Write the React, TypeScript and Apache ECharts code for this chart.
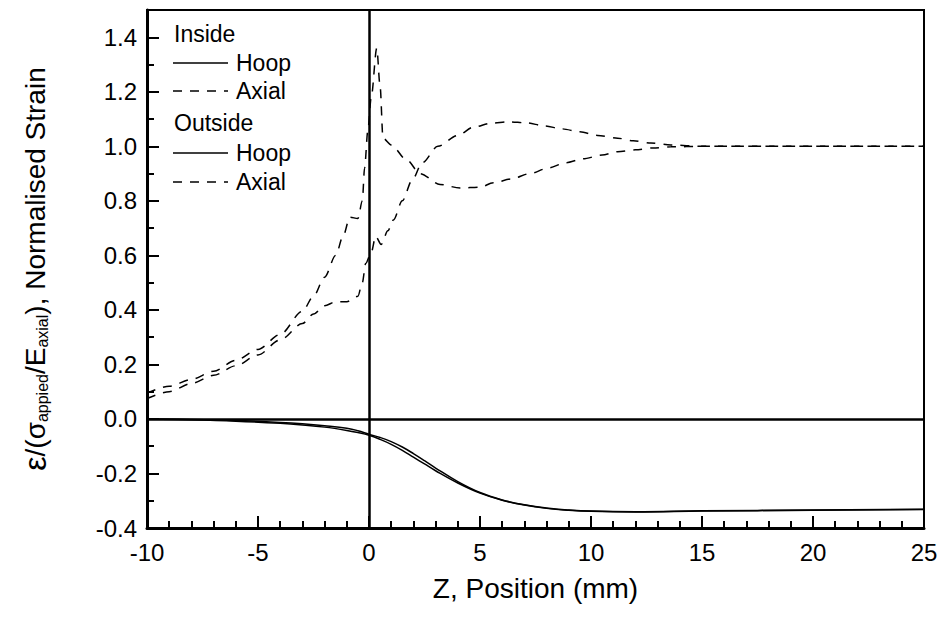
import React, { useEffect, useRef } from "react";
import * as echarts from "echarts";

// Position along the specimen (mm) and normalised strain readings
const hoopZ = [-10, -8, -6, -4, -3, -2, -1, -0.5, 0, 0.5, 1, 1.5, 2, 2.5, 3, 4, 5, 6, 7, 8, 9, 10, 12, 15, 20, 25];
const insideHoop = [0, -0.002, -0.006, -0.013, -0.018, -0.025, -0.034, -0.043, -0.056, -0.068, -0.083, -0.103, -0.127, -0.153, -0.18, -0.23, -0.27, -0.297, -0.315, -0.327, -0.334, -0.338, -0.34, -0.337, -0.334, -0.331];
const outsideHoop = [0, -0.003, -0.008, -0.016, -0.022, -0.03, -0.042, -0.05, -0.06, -0.075, -0.093, -0.115, -0.14, -0.165, -0.19, -0.235, -0.272, -0.298, -0.316, -0.328, -0.335, -0.339, -0.341, -0.338, -0.335, -0.332];

const insideAxialZ = [-10, -9, -8, -7, -6, -5, -4, -3, -2.5, -2, -1.5, -1.17, -0.86, -0.5, -0.3, -0.2, -0.05, 0.1, 0.35, 0.5, 0.63, 1.0, 1.7, 2.3, 3.2, 4.1, 5, 5.6, 6.4, 7.25, 8.06, 8.87, 9.64, 10.5, 11.2, 12, 12.8, 13.6, 15, 20, 25];
const insideAxial = [0.095, 0.12, 0.145, 0.175, 0.215, 0.255, 0.31, 0.395, 0.45, 0.52, 0.6, 0.67, 0.74, 0.735, 0.8, 0.92, 1.06, 1.18, 1.36, 1.22, 1.03, 1.005, 0.95, 0.9, 0.86, 0.847, 0.85, 0.866, 0.88, 0.9, 0.92, 0.94, 0.954, 0.968, 0.98, 0.987, 0.994, 0.998, 1.0, 1.0, 1.0];

const outsideAxialZ = [-10, -9, -8, -7, -6, -5, -4, -3, -2.5, -2, -1.5, -1, -0.5, -0.3, -0.15, 0.1, 0.3, 0.55, 0.85, 1.1, 1.5, 1.95, 2.4, 3.1, 4, 4.7, 5.5, 6.3, 7.1, 7.9, 8.7, 9.5, 10.3, 11.2, 11.9, 12.7, 13.6, 15, 20, 25];
const outsideAxial = [0.075, 0.1, 0.13, 0.16, 0.195, 0.235, 0.29, 0.35, 0.385, 0.415, 0.43, 0.43, 0.45, 0.5, 0.57, 0.61, 0.67, 0.64, 0.69, 0.73, 0.8, 0.877, 0.94, 1.0, 1.04, 1.07, 1.085, 1.09, 1.086, 1.075, 1.064, 1.053, 1.04, 1.03, 1.02, 1.012, 1.005, 1.0, 1.0, 1.0];

const zMin = -10;
const zMax = 25;
const strainMin = -0.4;
const strainMax = 1.5;

const FONT = "'Liberation Sans', Arial, Helvetica, sans-serif";
const DASH = [9, 8];

const pairs = (xs: number[], ys: number[]) => xs.map((x, i) => [x, ys[i]]);

export default function App() {
  const ref = useRef<HTMLDivElement>(null);

  useEffect(() => {
    if (!ref.current) return;
    const chart = echarts.init(ref.current, undefined, { renderer: "svg" });

    const lineBase = {
      type: "line" as const,
      showSymbol: false,
      xAxisIndex: 0,
      yAxisIndex: 0,
      silent: true,
    };

    const legendRows = [
      { kind: "head", text: "Inside", y: 34 },
      { kind: "solid", text: "Hoop", y: 63 },
      { kind: "dash", text: "Axial", y: 91 },
      { kind: "head", text: "Outside", y: 123 },
      { kind: "solid", text: "Hoop", y: 153 },
      { kind: "dash", text: "Axial", y: 182 },
    ];

    const legendGraphics: any[] = [];
    legendRows.forEach((r) => {
      if (r.kind === "head") {
        legendGraphics.push({
          type: "text",
          x: 174,
          y: r.y,
          style: { text: r.text, font: `23px ${FONT}`, fill: "#000", verticalAlign: "middle" },
        });
      } else {
        legendGraphics.push({
          type: "line",
          shape: { x1: 173, y1: r.y, x2: 228, y2: r.y },
          style: { stroke: "#000", lineWidth: 1.5, lineDash: r.kind === "dash" ? DASH : null },
        });
        legendGraphics.push({
          type: "text",
          x: 236,
          y: r.y,
          style: { text: r.text, font: `23px ${FONT}`, fill: "#000", verticalAlign: "middle" },
        });
      }
    });

    chart.setOption({
      animation: false,
      backgroundColor: "#fff",
      textStyle: { fontFamily: FONT },
      grid: {
        left: 147,
        right: 18,
        top: 10,
        bottom: 94,
        show: true,
        borderColor: "#000",
        borderWidth: 2,
        backgroundColor: "transparent",
      },
      xAxis: {
        type: "value",
        min: zMin,
        max: zMax,
        interval: 5,
        name: "Z, Position (mm)",
        nameLocation: "middle",
        nameGap: 46,
        nameTextStyle: { fontSize: 28, color: "#000", fontFamily: FONT },
        axisLine: { show: true, onZero: false, lineStyle: { color: "#000", width: 3 } },
        axisTick: { show: true, inside: true, length: 12, lineStyle: { color: "#000", width: 2 } },
        minorTick: { show: true, splitNumber: 5, length: 7, lineStyle: { color: "#000", width: 2 } },
        axisLabel: { fontSize: 24, color: "#000", margin: 12, fontFamily: FONT },
        splitLine: { show: false },
        minorSplitLine: { show: false },
      },
      yAxis: [
        {
          type: "value",
          min: strainMin,
          max: strainMax,
          interval: 0.2,
          position: "left",
          name:
            "{e|ε}{n|/(σ}{s|appied}{n|/E}{s|axial}{n|), Normalised Strain}",
          nameLocation: "middle",
          nameRotate: 90,
          nameGap: 96,
          nameTextStyle: {
            color: "#000",
            fontFamily: FONT,
            rich: {
              e: { fontSize: 32, fontFamily: FONT, color: "#000" },
              n: { fontSize: 28, fontFamily: FONT, color: "#000" },
              s: { fontSize: 16, fontFamily: FONT, color: "#000", padding: [15, 0, 0, 0] },
            },
          },
          axisLine: { show: true, onZero: false, lineStyle: { color: "#000", width: 3 } },
          axisTick: { show: true, inside: true, length: 12, lineStyle: { color: "#000", width: 2 } },
          axisLabel: {
            fontSize: 24,
            color: "#000",
            margin: 10,
            fontFamily: FONT,
            formatter: (v: number) => (v > 1.45 ? "" : v.toFixed(1)),
          },
          splitLine: { show: false },
        },
        {
          type: "value",
          min: strainMin,
          max: strainMax,
          interval: 0.1,
          position: "left",
          axisLine: { show: false, onZero: false },
          axisTick: { show: true, inside: true, length: 7, lineStyle: { color: "#000", width: 2 } },
          axisLabel: { show: false },
          splitLine: { show: false },
        },
      ],
      graphic: legendGraphics,
      series: [
        {
          ...lineBase,
          name: "Inside Hoop",
          smooth: 0.4,
          data: pairs(hoopZ, insideHoop),
          lineStyle: { color: "#000", width: 1.5, type: "solid" },
          markLine: {
            silent: true,
            symbol: ["none", "none"],
            label: { show: false },
            lineStyle: { color: "#000", width: 2.5, type: "solid" },
            data: [{ yAxis: 0 }, { xAxis: 0 }],
          },
        },
        {
          ...lineBase,
          name: "Inside Axial",
          smooth: 0.3,
          smoothMonotone: "x",
          data: pairs(insideAxialZ, insideAxial),
          lineStyle: { color: "#000", width: 1.5, type: DASH },
        },
        {
          ...lineBase,
          name: "Outside Hoop",
          smooth: 0.4,
          data: pairs(hoopZ, outsideHoop),
          lineStyle: { color: "#000", width: 1.5, type: "solid" },
        },
        {
          ...lineBase,
          name: "Outside Axial",
          smooth: 0.3,
          smoothMonotone: "x",
          data: pairs(outsideAxialZ, outsideAxial),
          lineStyle: { color: "#000", width: 1.5, type: DASH },
        },
      ],
    });

    return () => chart.dispose();
  }, []);

  return (
    <div
      ref={ref}
      style={{ position: "fixed", left: 0, top: 0, width: 942, height: 622, background: "#fff" }}
    />
  );
}
